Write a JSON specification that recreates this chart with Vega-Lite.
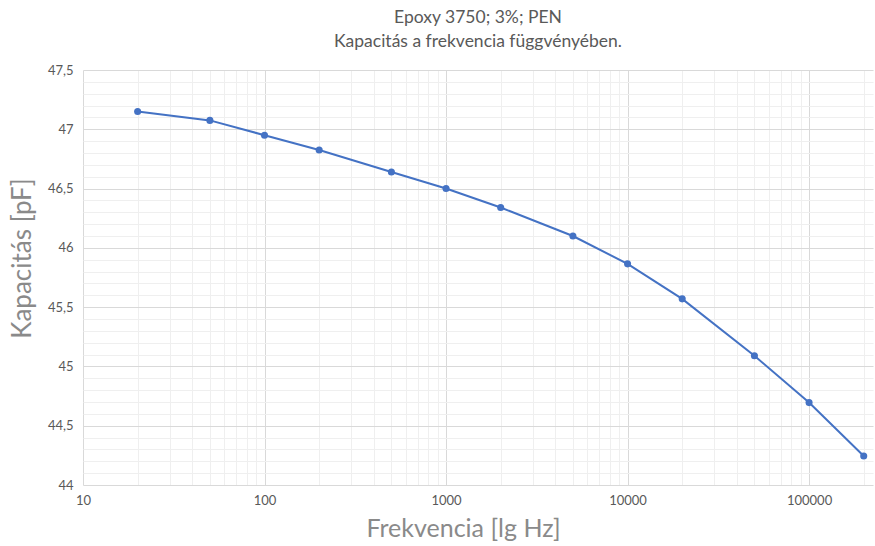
{
  "$schema": "https://vega.github.io/schema/vega-lite/v6.json",
  "width": 790,
  "height": 415,
  "autosize": {"type": "none"},
  "padding": {"left": 83, "top": 70, "right": 2, "bottom": 61},
  "background": "white",
  "title": {
    "text": ["Epoxy 3750; 3%; PEN", "Kapacitás a frekvencia függvényében."],
    "anchor": "middle",
    "frame": "group",
    "font": "Lato",
    "fontSize": 17.5,
    "fontWeight": "normal",
    "color": "#595959",
    "lineHeight": 24,
    "offset": 14
  },
  "config": {
    "view": {"stroke": null},
    "axis": {"labelFont": "Lato", "titleFont": "Lato", "labelColor": "#595959", "labelFontSize": 13, "titleColor": "#8a8a8a", "titleFontWeight": "normal"}
  },
  "data": {
    "values": [
      {"f": 20, "c": 47.15},
      {"f": 50, "c": 47.075},
      {"f": 100, "c": 46.95},
      {"f": 200, "c": 46.825},
      {"f": 500, "c": 46.64},
      {"f": 1000, "c": 46.5},
      {"f": 2000, "c": 46.34},
      {"f": 5000, "c": 46.1},
      {"f": 10000, "c": 45.865},
      {"f": 20000, "c": 45.57},
      {"f": 50000, "c": 45.09},
      {"f": 100000, "c": 44.695},
      {"f": 200000, "c": 44.245}
    ]
  },
  "resolve": {"axis": {"x": "independent", "y": "independent"}},
  "layer": [
    {
      "mark": {"type": "point", "opacity": 0},
      "encoding": {
        "x": {"field": "f", "type": "quantitative", "scale": {"type": "log", "domain": [10, 225000], "nice": false},
          "axis": {"orient": "top", "grid": true, "gridColor": "#efefef", "gridWidth": 1, "labels": false, "ticks": false, "domain": false, "title": null,
            "values": [20,30,40,50,60,70,80,90,200,300,400,500,600,700,800,900,2000,3000,4000,5000,6000,7000,8000,9000,20000,30000,40000,50000,60000,70000,80000,90000,200000]}},
        "y": {"field": "c", "type": "quantitative", "scale": {"domain": [44, 47.5], "nice": false, "zero": false},
          "axis": {"orient": "right", "grid": true, "gridColor": "#efefef", "gridWidth": 1, "labels": false, "ticks": false, "domain": false, "title": null,
            "values": [44.1,44.2,44.3,44.4,44.6,44.7,44.8,44.9,45.1,45.2,45.3,45.4,45.6,45.7,45.8,45.9,46.1,46.2,46.3,46.4,46.6,46.7,46.8,46.9,47.1,47.2,47.3,47.4]}}
      }
    },
    {
      "mark": {"type": "line", "color": "#4472C4", "strokeWidth": 2, "point": {"filled": true, "size": 50, "color": "#4472C4"}},
      "encoding": {
        "x": {"field": "f", "type": "quantitative", "scale": {"type": "log", "domain": [10, 225000], "nice": false},
          "axis": {"orient": "bottom", "grid": true, "gridColor": "#d9d9d9", "domain": false, "ticks": false, "labelPadding": 9,
            "values": [10, 100, 1000, 10000, 100000], "format": "d", "labelFlush": false,
            "title": "Frekvencia [lg Hz]", "titleFontSize": 25, "titleX": 380, "titleY": 43, "titleBaseline": "middle", "titleAlign": "center"}},
        "y": {"field": "c", "type": "quantitative", "scale": {"domain": [44, 47.5], "nice": false, "zero": false},
          "axis": {"orient": "left", "grid": true, "gridColor": "#d9d9d9", "domain": false, "ticks": false, "labelPadding": 10,
            "values": [44, 44.5, 45, 45.5, 46, 46.5, 47, 47.5], "labelExpr": "replace(toString(datum.value), '.', ',')",
            "title": "Kapacitás [pF]", "titleFontSize": 26, "titleX": -61, "titleY": 188, "titleBaseline": "middle", "titleAlign": "center", "titleAngle": -90}}
      }
    }
  ]
}
